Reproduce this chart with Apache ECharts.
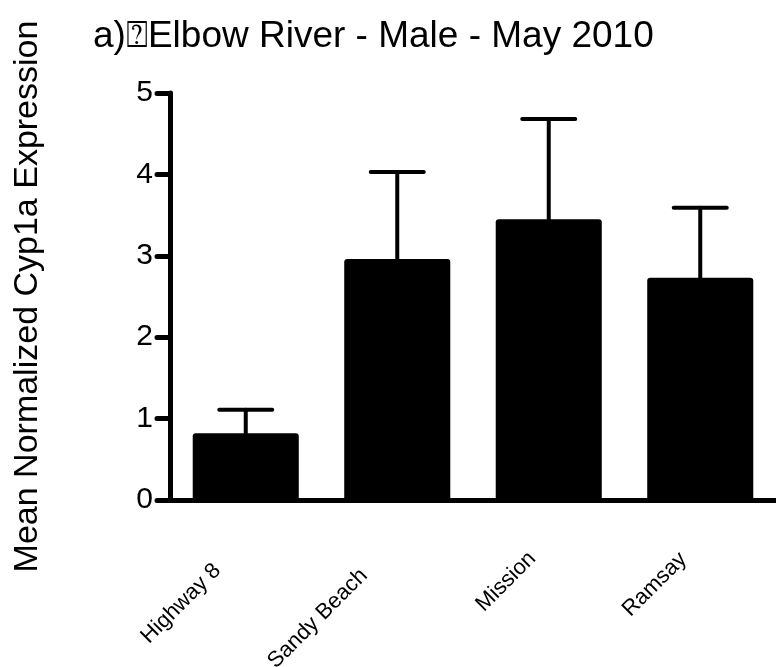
<!DOCTYPE html>
<html>
<head>
<meta charset="utf-8">
<script src="https://cdn.jsdelivr.net/npm/echarts@6/dist/echarts.min.js"></script>
<style>html,body{margin:0;padding:0;background:#fff;}#c{width:776px;height:667px;}</style>
</head>
<body>
<div id="c"></div>
<script>
const categories = ['Highway 8', 'Sandy Beach', 'Mission', 'Ramsay'];
const means = [0.82, 2.96, 3.45, 2.73];
const upperErr = [1.11, 4.03, 4.68, 3.59];
const yTicks = [0, 1, 2, 3, 4, 5];
const titleText = 'a)\u2370Elbow River - Male - May 2010';
const yName = 'Mean Normalized Cyp1a Expression';

const FONT = 'Liberation Sans, Arial, sans-serif';
const labelShift = [40, 47, 23, 24];
const rich = {};
labelShift.forEach((d, i) => {
  rich['p' + i] = { padding: [0, d, 0, 0], fontFamily: FONT, fontSize: 22, color: '#000' };
});

const chart = echarts.init(document.getElementById('c'));
chart.setOption({
  animation: false,
  title: {
    text: titleText, left: 93, top: 18, padding: 0,
    textStyle: { fontFamily: FONT, fontSize: 37, fontWeight: 'normal', color: '#000' }
  },
  grid: { left: 170, right: 0, top: 93, bottom: 167, outerBoundsMode: 'none', containLabel: false },
  xAxis: {
    type: 'category', data: categories,
    axisLine: { lineStyle: { color: '#000', width: 5 } },
    axisTick: { alignWithLabel: true, length: 13, lineStyle: { color: '#000', width: 5, cap: 'round' } },
    axisLabel: {
      rotate: 45, margin: 39, fontFamily: FONT, fontSize: 22, color: '#000',
      formatter: (v, i) => '{p' + i + '|' + v + '}',
      rich: rich
    }
  },
  yAxis: {
    type: 'value', min: 0, max: 5, interval: 1,
    name: yName, nameLocation: 'middle', nameGap: 125, nameRotate: 90,
    nameTextStyle: { fontFamily: FONT, fontSize: 34, color: '#000' },
    splitLine: { show: false },
    axisLine: { show: true, lineStyle: { color: '#000', width: 5 } },
    axisTick: { show: true, length: 13, lineStyle: { color: '#000', width: 5, cap: 'round' } },
    axisLabel: { margin: 17, fontFamily: FONT, fontSize: 30, color: '#000',
      formatter: v => yTicks.includes(v) ? String(v) : '' }
  },
  series: [
    {
      type: 'bar', data: means, barWidth: '70%',
      itemStyle: { color: '#000', borderRadius: [3, 3, 0, 0] }
    },
    {
      type: 'custom',
      data: categories.map((c, i) => [i, means[i], upperErr[i]]),
      renderItem: function (params, api) {
        const i = api.value(0);
        const base = api.coord([i, api.value(1)]);
        const top = api.coord([i, api.value(2)]);
        const half = api.size([1, 0])[0] * 0.175;
        const style = { stroke: '#000', lineWidth: 4, lineCap: 'round' };
        return {
          type: 'group',
          children: [
            { type: 'line', shape: { x1: base[0], y1: base[1], x2: top[0], y2: top[1] }, style: style },
            { type: 'line', shape: { x1: top[0] - half, y1: top[1], x2: top[0] + half, y2: top[1] }, style: style }
          ]
        };
      },
      z: 3
    }
  ]
});
</script>
</body>
</html>
